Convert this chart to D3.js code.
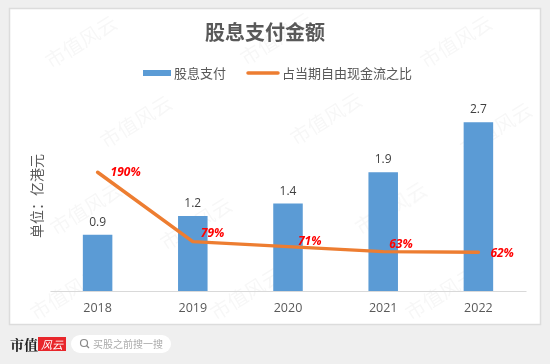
<!DOCTYPE html>
<html><head><meta charset="utf-8">
<script src="https://cdn.jsdelivr.net/npm/d3@7"></script>
<style>
html,body{margin:0;padding:0;background:#efefef;}
svg{display:block;}
</style></head>
<body>
<svg id="c" width="550" height="364"></svg>
<script>
const title = "股息支付金额";
const categories = ["2018","2019","2020","2021","2022"];
const dividends = [0.9,1.2,1.4,1.9,2.7];
const ratioPct = [190,79,71,63,62];
const seriesNames = ["股息支付","占当期自由现金流之比"];
const yAxisTitle = "单位：亿港元";
const footerSearch = "买股之前搜一搜";

const svg = d3.select("#c");
const cjk = "'Noto Sans CJK SC','Noto Sans',sans-serif";
const num = "'Open Sans','Noto Sans',sans-serif";

svg.append("rect").attr("width",550).attr("height",364).attr("fill","#efefef");
svg.append("rect").attr("x",9.5).attr("y",8.5).attr("width",531).attr("height",316)
  .attr("fill","#fff").attr("stroke","#dcdcdc").attr("stroke-width",1.5);

// faint watermarks
const wmPos = [[85,48],[280,45],[460,48],[140,128],[330,125],[500,135],[90,215],[200,230],[395,215],[70,300],[250,300],[445,300]];
const wm = svg.append("g").attr("fill","#000").attr("opacity",0.035)
  .attr("font-family",cjk).attr("font-size",20);
wm.selectAll("text").data(wmPos).join("text")
  .attr("transform",d=>`translate(${d[0]},${d[1]}) rotate(-32)`)
  .attr("text-anchor","middle").text("市值风云");

const x = d3.scaleBand().domain(categories).range([50,526]).paddingInner(0.69).paddingOuter(0.345);
const y = d3.scaleLinear().domain([0,3.2]).range([291,91]);
const y2 = d3.scaleLinear().domain([0,320]).range([291,91]);

// title
svg.append("text").attr("x",265).attr("y",40).attr("text-anchor","middle")
  .attr("font-family",cjk).attr("font-weight","bold").attr("font-size",20)
  .attr("fill","#595959").text(title);

// legend
const lg = svg.append("g").attr("font-family",cjk).attr("font-size",13).attr("fill","#595959");
lg.append("rect").attr("x",143).attr("y",70).attr("width",28).attr("height",6).attr("fill","#5B9BD5");
lg.append("text").attr("x",174).attr("y",78).text(seriesNames[0]);
lg.append("line").attr("x1",248).attr("x2",278).attr("y1",73).attr("y2",73)
  .attr("stroke","#ED7D31").attr("stroke-width",3.5).attr("stroke-linecap","round");
lg.append("text").attr("x",282).attr("y",78).text(seriesNames[1]);

// y axis title
svg.append("text").attr("transform","translate(42,196) rotate(-90)")
  .attr("text-anchor","middle").attr("font-family",cjk).attr("font-size",14)
  .attr("fill","#595959").text(yAxisTitle);

// bars
svg.append("g").selectAll("rect").data(dividends).join("rect")
  .attr("x",(d,i)=>x(categories[i])).attr("width",x.bandwidth())
  .attr("y",d=>y(d)).attr("height",d=>y(0)-y(d)).attr("fill","#5B9BD5");

svg.append("g").selectAll("text").data(dividends).join("text")
  .attr("x",(d,i)=>x(categories[i])+x.bandwidth()/2).attr("y",d=>y(d)-9)
  .attr("text-anchor","middle").attr("font-family",num).attr("font-size",12)
  .attr("fill","#404040").text(d=>d.toFixed(1));

// x axis
const xa = d3.axisBottom(x).tickSize(0).tickPadding(12);
const gx = svg.append("g").attr("transform","translate(0,291)").call(xa);
gx.select(".domain").attr("stroke","#d9d9d9").attr("stroke-width",1.2);
gx.selectAll("text").attr("font-family",num).attr("font-size",12.5).attr("fill","#595959");

// line
const cx = i => x(categories[i]) + x.bandwidth()/2;
const line = d3.line().x((d,i)=>cx(i)).y(d=>y2(d)).curve(d3.curveLinear);
svg.append("path").datum(ratioPct).attr("d",line).attr("fill","none")
  .attr("stroke","#ED7D31").attr("stroke-width",3.5).attr("stroke-linecap","round").attr("stroke-linejoin","round");

const lblOff = [[13,4],[8,-5],[10,-2],[6,-4],[12,5]];
svg.append("g").selectAll("text").data(ratioPct).join("text")
  .attr("x",(d,i)=>cx(i)+lblOff[i][0]).attr("y",(d,i)=>y2(d)+lblOff[i][1])
  .attr("font-family",num).attr("font-size",12).attr("font-weight","bold").attr("font-style","italic")
  .attr("fill","#FF0000").text(d=>d+"%");

// footer
const ft = svg.append("g");
ft.append("text").attr("x",10).attr("y",349.5).attr("font-family","'Noto Serif CJK SC','Noto Sans CJK SC',serif")
  .attr("font-weight","bold").attr("font-size",14).attr("fill","#222").text("市值");
ft.append("rect").attr("x",38).attr("y",337).attr("width",28).attr("height",14).attr("fill","#e8262b");
ft.append("text").attr("x",52).attr("y",348.5).attr("text-anchor","middle").attr("font-family",cjk)
  .attr("font-style","italic").attr("font-size",11).attr("fill","#fff").text("风云");
ft.append("rect").attr("x",71).attr("y",335).attr("width",100).attr("height",18).attr("rx",9).attr("fill","#fff");
ft.append("circle").attr("cx",84).attr("cy",343).attr("r",3.5).attr("fill","none").attr("stroke","#888").attr("stroke-width",1.2);
ft.append("line").attr("x1",86.5).attr("y1",345.5).attr("x2",89).attr("y2",348).attr("stroke","#888").attr("stroke-width",1.2);
ft.append("text").attr("x",93).attr("y",347.5).attr("font-family",cjk).attr("font-size",10)
  .attr("fill","#aaa").text(footerSearch);
</script>
</body></html>
